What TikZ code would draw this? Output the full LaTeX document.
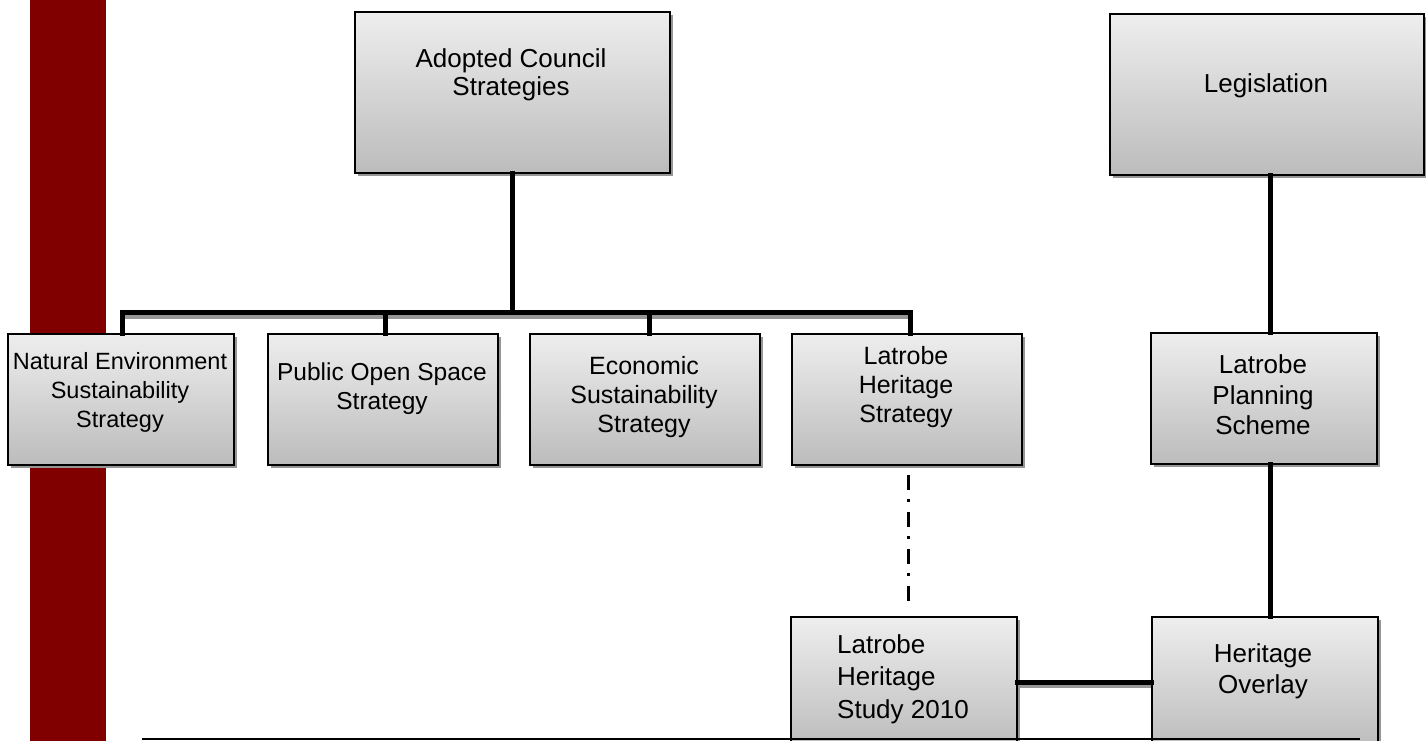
\documentclass[tikz,border=0pt]{standalone}
\usepackage{fontspec}
\setmainfont{Liberation Sans}
\usetikzlibrary{shadows}
\definecolor{barred}{RGB}{128,0,0}
\definecolor{boxtop}{RGB}{238,238,238}
\definecolor{boxbot}{RGB}{188,188,188}
\definecolor{shadowgray}{RGB}{150,150,150}
\tikzset{
  box/.style={draw=black, line width=1.5pt, rectangle, anchor=north west, inner sep=0pt,
    top color=boxtop, bottom color=boxbot,
    drop shadow={shadow xshift=3pt, shadow yshift=-3pt, fill=shadowgray, opacity=1}},
  label text/.style={inner sep=0pt, align=center, font=\fontsize{26}{30}\selectfont},
  conn/.style={line width=5pt, line join=miter, line cap=rect},
  connshadow/.style={line width=5pt, draw=shadowgray},
  dashdot line/.style={line width=3pt, dash pattern=on 15pt off 9pt on 3pt off 10pt}
}
\begin{document}
\begin{tikzpicture}[x=1pt, y=-1pt]
\useasboundingbox (0,0) rectangle (1426,740);
\clip (0,0) rectangle (1426,740);
% red bar
\fill[barred] (30,-5) rectangle (106,745);
% bus coordinate
\coordinate (bus) at (513.5,312.5);
% connector shadows (horizontals)
\draw[connshadow] (124,316.5) -- (913,316.5);
\draw[connshadow] (1016,685.5) -- (1151,685.5);
% boxes
\node[box, minimum width=315pt, minimum height=161pt] (acs) at (354,11) {};
\node[box, minimum width=314pt, minimum height=161pt] (leg) at (1109,13) {};
\node[box, minimum width=226pt, minimum height=131pt] (nes) at (7,333) {};
\node[box, minimum width=230pt, minimum height=131pt] (pos) at (267,333) {};
\node[box, minimum width=230pt, minimum height=131pt] (ess) at (529,333) {};
\node[box, minimum width=230pt, minimum height=131pt] (lhstr) at (791,333) {};
\node[box, minimum width=226pt, minimum height=131pt] (lps) at (1150,332) {};
\node[box, minimum width=226pt, minimum height=131pt] (lhs) at (790,616) {};
\node[box, minimum width=226pt, minimum height=131pt] (ho) at (1151,616) {};
% bottom rule
\coordinate (ruleL) at (142,738.5);
\coordinate (ruleR) at (1360,738.5);
\draw[line width=2pt] (ruleL) -- (ruleR);
% texts
\node[label text, font=\fontsize{26}{28}\selectfont] (t-acs) at (511,75) {Adopted Council\\Strategies};
\node[label text] (t-leg) at (1266,86) {Legislation};
\node[label text, font=\fontsize{23.5}{29}\selectfont] (t-nes) at (120,392) {Natural Environment\\Sustainability\\Strategy};
\node[label text, font=\fontsize{24.5}{29}\selectfont] (t-pos) at (382,389) {Public Open Space\\Strategy};
\node[label text, font=\fontsize{25}{29}\selectfont] (t-ess) at (644,397) {Economic\\Sustainability\\Strategy};
\node[label text, font=\fontsize{25}{29}\selectfont] (t-lhstr) at (906,387) {Latrobe\\Heritage\\Strategy};
\node[label text, font=\fontsize{26}{30.5}\selectfont] (t-lps) at (1263,395) {Latrobe\\Planning\\Scheme};
\node[label text, align=left, anchor=west, font=\fontsize{26}{32.5}\selectfont] (t-lhs) at (837,679) {Latrobe\\Heritage\\Study 2010};
\node[label text, font=\fontsize{26}{31}\selectfont] (t-ho) at (1263,671) {Heritage\\Overlay};
% connectors
\draw[conn] (acs.south) -- (acs.south |- bus);
\draw[conn] ([xshift=2pt]nes.north) -- ([xshift=2pt]nes.north |- bus) -- ([xshift=4pt]lhstr.north |- bus) -- ([xshift=4pt]lhstr.north);
\draw[conn] ([xshift=3pt]pos.north |- bus) -- ([xshift=3pt]pos.north);
\draw[conn] ([xshift=5pt]ess.north |- bus) -- ([xshift=5pt]ess.north);
\draw[conn] ([xshift=4pt]leg.south) -- ([xshift=4pt]leg.south |- lps.north);
\draw[conn] ([xshift=7pt]lps.south) -- ([xshift=7pt]lps.south |- ho.north);
\draw[conn] (lhs.east) -- (ho.west);
\draw[dashdot line, shorten <=9pt, shorten >=8pt] ([xshift=2pt]lhstr.south) -- ([xshift=2pt]lhstr.south |- lhs.north);
\end{tikzpicture}
\end{document}
